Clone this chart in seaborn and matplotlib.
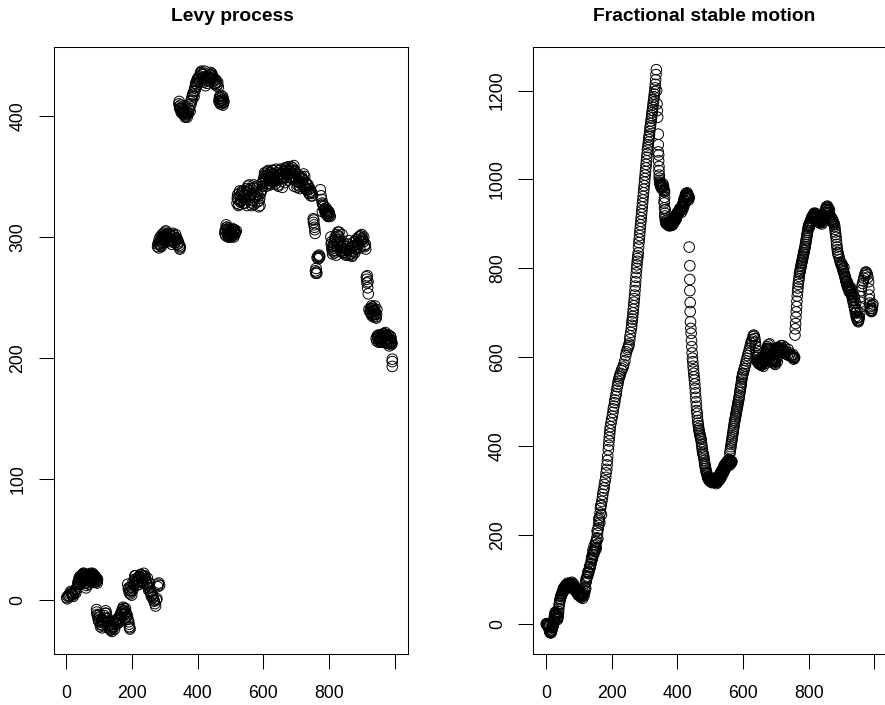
import matplotlib
matplotlib.use('Agg')
import matplotlib.pyplot as plt
import seaborn as sns

# Levy process, one cluster at a time
levy_x = [
 [1, 3, 5, 7, 9, 11, 13, 15, 17, 19, 21, 23, 25, 27, 29, 31, 33],
 [35, 37, 39, 41, 43, 45, 47, 49, 51, 53, 55, 57, 59, 61, 63, 65, 67, 69, 71, 73, 75, 77, 79, 81, 83, 85, 87, 89, 91, 93, 95],
 [92, 93, 95, 97, 100, 102, 105, 108, 110, 113, 116, 120, 122, 125, 128, 130, 133, 136, 139, 141, 143, 146, 150, 153, 156, 160, 163, 166, 170, 173, 175, 177, 179, 181, 183, 186, 188, 190, 191, 192, 193, 194],
 [187, 190, 193, 195, 197, 200, 203, 206, 209, 212, 215, 218, 221, 224, 227, 230, 233, 236, 239, 242, 245, 248, 251, 254, 257, 260, 262, 264, 266, 268, 270, 272, 274, 276, 278, 280, 282, 284],
 [278, 281, 284, 287, 290, 293, 296, 299, 302, 305, 308, 311, 314, 317, 320, 323, 326, 329, 332, 335, 338, 341, 344, 346, 347],
 [343, 345, 347, 349, 351, 353, 355, 358, 361, 364, 367, 370, 373, 376, 379, 382, 385, 388, 391, 394, 397, 400, 403, 406, 409, 412, 415, 418, 421, 424, 427, 430, 433, 436, 439, 442, 445, 448, 451, 454, 457, 460, 463, 466, 468, 470, 472, 474, 476, 478, 480],
 [483, 485, 487, 489, 491, 494, 497, 500, 503, 506, 509, 512, 515, 518],
 [520, 523, 526, 529, 532, 535, 538, 541, 544, 547, 550, 553, 556, 559, 562, 565, 568, 571, 574, 577, 580, 583, 586, 589, 592, 595, 598],
 [600, 603, 606, 609, 612, 615, 618, 621, 624, 627, 630, 633, 636, 639, 642, 645, 648, 651, 654, 657, 660, 663, 666, 669, 672, 675, 678, 681, 684, 687, 690, 693, 696, 699, 702, 705, 708, 711, 714, 717, 720, 723, 726, 729, 732, 735, 738, 741, 744, 747, 750],
 [752, 753, 754, 755, 756, 757, 758, 759, 760, 761, 762, 763, 764, 766, 768, 770, 771, 772],
 [774, 776, 778, 780, 782, 784, 786, 788, 790, 792, 794, 796, 798, 800, 802, 804],
 [806, 808, 810, 812, 814, 816, 818, 821, 824, 827, 830, 833, 836, 839, 842, 845, 848, 851, 854, 857, 860, 863, 866, 869, 872, 875, 878, 881, 884, 887, 890, 893, 896, 899, 902, 905, 908, 911],
 [914, 915, 916, 917, 918, 919, 920, 922, 925, 927, 929, 931, 933, 935, 937, 939, 941, 943, 945],
 [944, 947, 950, 953, 956, 959, 962, 965, 968, 971, 974, 977, 980, 983, 985, 987, 989, 990, 991, 992, 993, 993, 993],
 # second pass over the blobs, where the original is solid black
 [36, 38, 40, 42, 44, 46, 48, 50, 52, 54, 56, 58, 60, 62, 64, 66, 68, 70, 72, 74, 76, 78, 80, 82, 84, 86, 88, 90, 92, 94],
 [94, 98, 101, 104, 107, 109, 112, 115, 118, 121, 124, 127, 131, 134, 137, 140, 144, 147, 151, 155, 158, 161, 165, 168, 171, 174, 176, 178, 180, 182],
 [189, 192, 196, 199, 202, 205, 208, 211, 214, 217, 220, 223, 226, 229, 232, 235, 238, 241, 244, 247, 250, 253, 256, 259, 263],
 [279, 282, 285, 288, 291, 294, 297, 300, 303, 306, 309, 312, 315, 318, 321, 324, 327, 330, 333, 336, 339, 342, 345, 283, 286, 289, 292, 295, 298, 301],
 [344, 346, 348, 350, 352, 354, 356, 359, 362, 365, 368, 371, 374, 377, 380, 383, 386, 389, 392, 395, 398, 401, 404, 407, 410, 413, 416, 419, 422, 425, 428, 431, 434, 437, 440, 443, 446, 449, 452, 455, 458, 461, 465, 467, 469, 471, 473, 475, 477, 479],
 [484, 486, 488, 490, 492, 493, 495, 496, 498, 499, 501, 502, 504, 505, 507, 508, 510, 511, 513, 514],
 [521, 524, 527, 530, 533, 536, 539, 542, 545, 548, 551, 554, 557, 560, 563, 566, 569, 572, 575, 578, 581, 584, 587, 590, 593, 596, 599, 522, 528, 534],
 [601, 604, 607, 610, 613, 616, 619, 622, 625, 628, 631, 634, 637, 640, 643, 646, 649, 652, 655, 658, 661, 664, 667, 670, 673, 676, 679, 682, 685, 688, 691, 694, 697, 700, 703, 706, 709, 712, 715, 718, 721, 724, 727, 730, 733, 736, 739, 742, 745, 748, 610, 620, 630, 640, 650, 660, 670, 680, 695, 710],
 [807, 809, 811, 813, 815, 817, 819, 822, 825, 828, 831, 834, 837, 840, 843, 846, 849, 852, 855, 858, 861, 864, 867, 870, 873, 876, 879, 882, 885, 888, 891, 894, 897, 900, 903, 906, 909, 912, 826, 840],
 [928, 930, 932, 934, 936, 938, 940, 942, 944, 946],
 [946, 949, 951, 954, 957, 960, 963, 966, 969, 972, 975, 978, 981, 984, 986, 988, 948, 952, 958, 964, 970, 976, 982, 985, 989],
 [780, 783, 786, 789, 791, 793, 795, 797, 799, 801]]
levy_y = [
 [2, 1, 3, 4, 3, 5, 7, 6, 5, 4, 3, 5, 7, 8, 6, 9, 11],
 [13, 15, 14, 17, 18, 16, 19, 21, 20, 22, 21, 19, 16, 12, 14, 17, 19, 18, 20, 21, 19, 17, 20, 21, 19, 18, 20, 17, 15, 16, 17],
 [-8, -10, -13, -15, -18, -12, -20, -16, -21, -17, -13, -9, -11, -15, -18, -20, -23, -25, -26, -23, -20, -22, -18, -16, -19, -15, -13, -11, -8, -6, -7, -9, -12, -10, -14, -13, -16, -18, -20, -22, -23, -24],
 [13, 10, 8, 5, 7, 10, 15, 12, 20, 17, 14, 18, 16, 19, 21, 18, 15, 22, 20, 17, 14, 12, 8, 10, 6, 4, 5, 2, 0, -1, -3, -5, 0, 1, 11, 13, 14, 12],
 [292, 295, 294, 297, 298, 300, 303, 301, 304, 302, 299, 300, 302, 297, 298, 296, 300, 301, 299, 297, 298, 296, 293, 290, 292],
 [410, 408, 406, 407, 405, 404, 403, 402, 401, 400, 401, 403, 405, 408, 412, 415, 418, 420, 423, 427, 429, 431, 430, 433, 436, 437, 435, 432, 428, 425, 431, 433, 430, 432, 436, 434, 433, 431, 429, 427, 428, 426, 424, 414, 412, 415, 413, 411, 416, 414, 412],
 [303, 306, 310, 308, 305, 302, 301, 303, 304, 302, 305, 306, 304, 305],
 [328, 331, 327, 334, 330, 336, 332, 338, 328, 334, 340, 342, 331, 338, 335, 326, 330, 343, 341, 333, 337, 329, 325, 332, 336, 339, 342],
 [345, 350, 352, 348, 354, 350, 347, 353, 349, 355, 345, 352, 347, 356, 351, 343, 348, 355, 352, 346, 350, 354, 357, 353, 355, 358, 352, 349, 356, 353, 357, 359, 355, 352, 348, 343, 345, 342, 346, 350, 348, 352, 350, 344, 340, 343, 339, 336, 338, 337, 334],
 [315, 312, 314, 310, 308, 306, 303, 272, 270, 274, 271, 270, 283, 284, 282, 285, 283, 284],
 [339, 334, 331, 328, 327, 325, 323, 322, 321, 319, 320, 318, 317, 319, 318, 317],
 [300, 296, 292, 288, 291, 295, 287, 298, 302, 304, 300, 296, 292, 289, 293, 295, 287, 285, 290, 294, 297, 288, 286, 291, 285, 288, 293, 296, 298, 292, 295, 300, 301, 297, 299, 296, 293, 294],
 [267, 265, 262, 268, 258, 263, 253, 240, 238, 241, 237, 235, 242, 239, 236, 240, 238, 234, 236],
 [216, 218, 217, 215, 219, 216, 218, 220, 217, 215, 219, 213, 216, 214, 212, 218, 214, 211, 213, 212, 199, 197, 193],
 [15, 17, 19, 13, 20, 15, 18, 16, 22, 19, 17, 14, 10, 15, 20, 16, 13, 18, 16, 22, 16, 18, 22, 15, 20, 17, 19, 15, 18, 14],
 [-12, -17, -14, -22, -18, -23, -19, -15, -11, -15, -19, -22, -24, -21, -24, -22, -18, -24, -20, -17, -19, -17, -15, -12, -10, -9, -12, -15, -7, -11],
 [9, 6, 11, 4, 8, 13, 17, 20, 12, 16, 19, 13, 21, 16, 20, 14, 19, 16, 13, 18, 10, 14, 7, 3, 2],
 [294, 291, 296, 293, 299, 295, 301, 298, 305, 300, 296, 303, 298, 301, 294, 303, 297, 295, 302, 299, 294, 295, 291, 298, 300, 292, 302, 297, 300, 296],
 [412, 406, 409, 403, 406, 402, 405, 403, 399, 403, 399, 402, 406, 404, 410, 413, 417, 416, 421, 424, 426, 428, 432, 428, 435, 431, 434, 430, 437, 429, 427, 432, 429, 434, 431, 435, 432, 430, 426, 430, 425, 428, 412, 416, 410, 417, 410, 413, 409, 411],
 [305, 301, 308, 303, 307, 300, 304, 300, 306, 302, 300, 305, 302, 307, 301, 304, 300, 306, 302, 304],
 [332, 326, 336, 329, 333, 338, 328, 335, 331, 337, 326, 339, 343, 333, 340, 328, 336, 327, 334, 340, 342, 335, 330, 326, 338, 344, 346, 335, 338, 330],
 [348, 353, 346, 351, 344, 355, 349, 344, 352, 346, 355, 349, 344, 353, 347, 342, 351, 356, 348, 341, 354, 349, 345, 357, 352, 347, 355, 350, 358, 353, 348, 342, 350, 346, 341, 351, 345, 340, 349, 344, 347, 342, 340, 345, 339, 343, 336, 340, 334, 336, 342, 343, 347, 349, 352, 352, 356, 354, 354, 350],
 [294, 290, 286, 293, 289, 297, 300, 285, 292, 301, 304, 298, 288, 291, 287, 293, 290, 286, 292, 289, 285, 290, 286, 284, 292, 296, 287, 290, 298, 294, 300, 291, 296, 302, 298, 300, 292, 290, 296, 302],
 [238, 243, 236, 241, 234, 239, 243, 236, 233, 240],
 [214, 216, 219, 214, 217, 213, 219, 216, 220, 221, 218, 215, 219, 210, 216, 213, 218, 213, 215, 218, 213, 212, 216, 214, 217],
 [321, 326, 323, 320, 324, 319, 322, 317, 321, 320]]

# Fractional stable motion
frac_x = [
 [1, 3, 5, 7, 8, 9, 10, 11, 12, 14, 16, 17, 18, 20, 22, 23, 25, 27, 28, 30, 32, 34, 35, 36, 37, 38, 39, 40, 42, 44, 45, 47, 48, 50, 52, 54, 56, 58, 60, 62, 65, 68, 70, 73, 75, 78, 80, 83, 85, 88, 90, 93, 95, 98, 100, 103, 105, 108, 110, 113, 115, 117, 118, 120, 122, 124, 127, 129, 132, 134, 136, 138, 140, 142, 144, 146, 148, 150, 152, 154, 155, 157, 159, 160, 162, 163, 165, 166, 168, 170, 172, 173, 175, 177, 178, 180, 182, 183, 185, 186, 187, 188, 190, 191, 192, 193, 194, 195, 196, 198, 200, 202, 204, 205, 207, 209, 210, 212, 214, 215, 217, 219, 220, 222, 224, 225, 227, 230, 232, 235, 237, 240, 243, 245, 248, 250, 252, 253, 255, 256, 258, 260, 261, 262, 263, 264, 265, 266, 267, 268, 269, 270, 271, 272, 273, 274, 275, 276, 277, 278, 279, 280, 281, 282, 283, 284, 285, 286, 287, 288, 289, 290, 291, 292, 293, 294, 295, 296, 297, 298, 299, 300, 301, 302, 303, 304, 305, 306, 307, 308, 309, 310, 311, 312, 313, 314, 315, 316, 317, 318, 319, 320, 321, 322, 323, 324, 325, 326, 327, 328, 329, 330, 331, 332, 333, 334, 335, 336],
 [337, 338, 339, 340, 342, 342, 342, 343, 343, 344, 344, 345, 345, 346, 346, 347, 348, 349, 350, 352, 354, 356, 358, 360, 361, 361, 360, 360, 361, 362, 362, 363, 364, 365, 366, 368, 370, 372, 375, 378, 380, 382, 385, 388, 390, 393, 395, 398, 400, 403, 405, 408, 410, 413, 415, 418, 420, 423, 425, 427, 429, 431, 433, 435],
 [436, 438, 438, 438, 439, 439, 440, 441, 442, 443, 444, 445, 446, 447, 448, 449, 450, 451, 452, 453, 454, 455, 456, 457, 458, 459, 460, 461, 462, 463, 464, 465, 466, 467, 468, 469, 470, 471, 472, 473, 474, 475, 476, 477, 478, 479, 480, 481, 482, 483, 484, 485, 486, 487, 488, 489, 490, 491, 492, 493, 495, 497, 499, 501, 503, 505, 507, 510, 513, 515, 518, 520, 523, 525, 527, 529, 531, 533, 535, 537, 539, 541, 543, 545, 547, 549, 551, 553, 555, 558, 561, 564, 566],
 [560, 561, 562, 563, 564, 565, 566, 567, 568, 569, 570, 571, 572, 573, 574, 575, 576, 577, 578, 579, 580, 581, 582, 583, 584, 585, 586, 587, 588, 589, 590, 591, 592, 593, 594, 595, 596, 597, 598, 599, 600, 602, 604, 606, 608, 610, 612, 614, 616, 618, 620, 622, 624, 626, 628, 630, 632, 634, 636, 637, 638, 639, 640, 641, 642, 644, 646, 648, 650, 652, 655, 658, 660, 663, 665, 668, 670, 672, 674, 676, 678, 680, 682, 684, 686, 688, 690, 692, 694, 697, 700, 703, 705, 707, 709, 711, 713, 716, 720, 725, 730, 735, 740, 745, 750, 753, 755, 757],
 [758, 759, 760, 761, 762, 763, 764, 765, 766, 767, 768, 769, 770, 771, 772, 773, 774, 775, 776, 777, 778, 779, 780, 781, 782, 783, 784, 785, 786, 787, 788, 789, 790, 791, 792, 793, 794, 795, 796, 797, 798, 799, 800, 802, 804, 806, 808, 810, 812, 815, 818, 821, 824, 827, 830, 833, 836, 839, 842, 845, 848, 850, 852, 854, 856, 858, 860, 862, 864, 866, 868, 870, 872, 874, 875, 876, 877, 878, 879, 880, 881, 882, 883, 884, 885, 886, 887, 888, 889, 890, 892, 894, 896, 898, 900, 902, 904, 906, 908, 910, 912, 914, 916, 918, 920, 922, 924, 926, 928, 930, 932, 934, 936, 938, 940, 942, 944, 946, 948, 950, 952, 954, 955, 956, 957, 958, 960, 962, 964, 966, 968, 970, 972, 974, 976, 978, 980, 982, 983, 984, 985, 986, 987, 988, 989, 990, 991, 992, 993, 994, 995],
 # second pass over the stretches that come out solid black in the original
 [2, 4, 6, 9, 13, 15, 19, 21, 24, 26, 29, 31, 33, 36, 38, 41, 43, 46, 49, 51, 53, 55, 57, 59, 61, 63, 66, 69, 72, 74, 76, 79, 82, 84, 87, 89, 92, 94, 97, 99, 101, 104, 107, 109, 112, 114, 116, 119, 121, 123],
 [125, 128, 130, 133, 135, 137, 139, 141, 143, 145, 147, 149, 151, 153, 156, 158, 161, 164, 167, 169],
 [351, 353, 355, 357, 359, 363, 367, 369, 371, 373, 374, 376, 377, 379, 381, 383, 384, 386, 387, 389, 391, 392, 394, 396, 397, 399, 401, 402, 404, 406, 407, 409, 411, 412, 414, 416, 417, 419, 421, 422, 424, 426, 428, 430, 432, 434, 436, 430, 426, 433],
 [494, 496, 498, 500, 502, 504, 506, 508, 509, 511, 512, 514, 516, 517, 519, 521, 522, 524, 526, 528, 530, 532, 534, 536, 538, 540, 542, 544, 546, 548, 550, 552, 554, 556, 557, 559, 560, 562, 563, 565],
 [643, 645, 647, 649, 651, 653, 654, 656, 657, 659, 661, 662, 664, 666, 667, 669, 671, 673, 675, 677, 679, 681, 683, 685, 687, 689, 691, 693, 695, 696, 698, 699, 701, 702, 704, 706, 708, 710, 712, 714, 715, 717, 719, 721, 723, 727, 732, 737, 742, 747, 752, 754, 756],
 [801, 803, 805, 807, 809, 811, 813, 814, 816, 817, 819, 820, 822, 823, 825, 826, 828, 829, 831, 832, 834, 835, 837, 838, 840, 841, 843, 844, 846, 847, 849, 851, 853, 855, 857, 859, 861, 863, 865, 867, 869, 871, 873],
 [901, 903, 905, 907, 909, 911, 913, 915, 917, 919, 921, 923, 925, 927, 929, 931, 933, 935, 937, 939, 941, 943, 945, 947, 949, 951, 953]]
frac_y = [
 [0, -1, -2, -3, -5, -8, -11, -15, -18, -20, -19, -16, -13, -8, -3, 5, 12, 20, 25, 24, 21, 16, 10, 14, 20, 28, 34, 42, 52, 58, 62, 65, 68, 70, 72, 75, 79, 82, 85, 87, 88, 88, 89, 91, 92, 90, 88, 85, 82, 80, 78, 76, 72, 70, 68, 66, 65, 64, 62, 66, 70, 76, 82, 92, 100, 104, 108, 114, 122, 128, 134, 142, 148, 156, 160, 164, 168, 172, 178, 186, 194, 204, 214, 222, 232, 240, 250, 260, 268, 276, 284, 292, 300, 306, 314, 322, 330, 340, 348, 358, 368, 378, 392, 402, 412, 420, 428, 436, 444, 452, 460, 468, 476, 484, 490, 498, 504, 512, 518, 526, 534, 540, 546, 552, 556, 560, 564, 570, 574, 578, 584, 592, 604, 612, 618, 622, 626, 630, 640, 648, 656, 665, 672, 680, 686, 692, 700, 708, 716, 724, 732, 740, 750, 760, 770, 780, 790, 800, 808, 816, 822, 828, 835, 848, 858, 866, 874, 882, 890, 898, 906, 914, 922, 930, 938, 946, 954, 962, 970, 978, 986, 994, 1002, 1010, 1018, 1026, 1034, 1042, 1050, 1058, 1066, 1072, 1078, 1084, 1090, 1096, 1100, 1108, 1116, 1120, 1126, 1132, 1138, 1144, 1150, 1156, 1162, 1168, 1174, 1180, 1186, 1192, 1198, 1206, 1214, 1224, 1236, 1247],
 [1200, 1170, 1155, 1140, 1102, 1078, 1062, 1055, 1042, 1029, 1020, 1010, 1003, 998, 994, 992, 989, 986, 984, 980, 985, 990, 984, 976, 972, 960, 952, 947, 936, 924, 918, 912, 906, 902, 901, 900, 899, 898, 898, 900, 901, 903, 905, 908, 912, 916, 919, 922, 925, 928, 930, 931, 933, 936, 942, 948, 955, 960, 965, 968, 965, 962, 960, 958],
 [848, 806, 775, 750, 723, 703, 680, 665, 654, 638, 624, 610, 598, 590, 580, 572, 564, 556, 549, 540, 530, 520, 510, 500, 490, 480, 474, 466, 458, 452, 446, 440, 436, 432, 428, 425, 421, 418, 416, 410, 404, 398, 392, 387, 384, 381, 378, 373, 368, 362, 358, 354, 350, 346, 342, 340, 338, 335, 331, 328, 326, 325, 324, 323, 322, 321, 320, 320, 320, 322, 320, 319, 320, 322, 325, 328, 331, 336, 340, 344, 348, 351, 354, 356, 358, 360, 361, 362, 364, 365, 364, 363, 365],
 [384, 389, 394, 399, 404, 409, 414, 419, 424, 429, 434, 439, 444, 449, 454, 458, 462, 466, 470, 474, 478, 482, 486, 490, 494, 498, 502, 506, 510, 514, 520, 524, 530, 534, 538, 544, 550, 554, 558, 562, 564, 570, 574, 580, 586, 592, 598, 604, 609, 614, 620, 626, 632, 636, 640, 646, 650, 648, 642, 634, 626, 616, 608, 600, 594, 590, 588, 586, 585, 584, 583, 585, 588, 592, 598, 606, 612, 618, 624, 620, 614, 606, 598, 594, 592, 590, 592, 598, 606, 614, 618, 620, 621, 622, 620, 618, 616, 614, 612, 610, 608, 606, 604, 603, 602, 601, 600, 600],
 [650, 664, 676, 690, 702, 714, 726, 738, 748, 756, 764, 770, 776, 782, 789, 792, 796, 800, 804, 807, 811, 814, 818, 821, 825, 828, 832, 835, 839, 842, 846, 849, 854, 858, 863, 867, 872, 876, 881, 885, 890, 894, 897, 900, 904, 908, 912, 916, 918, 920, 922, 920, 916, 912, 908, 906, 905, 906, 908, 912, 918, 925, 932, 935, 938, 936, 930, 925, 920, 915, 910, 909, 908, 906, 904, 902, 900, 898, 894, 888, 882, 876, 870, 862, 854, 848, 842, 836, 834, 830, 826, 820, 814, 810, 806, 804, 798, 792, 788, 782, 776, 770, 763, 760, 757, 755, 753, 751, 748, 742, 735, 728, 722, 715, 708, 700, 692, 688, 684, 682, 684, 690, 700, 712, 724, 736, 750, 760, 766, 772, 778, 784, 789, 792, 790, 786, 780, 770, 754, 740, 730, 722, 714, 710, 706, 704, 703, 706, 710, 716, 720],
 [1, -3, -1, -6, -16, -17, -7, -4, 8, 18, 27, 20, 12, 16, 24, 46, 55, 62, 68, 74, 80, 78, 84, 80, 88, 82, 92, 86, 82, 90, 86, 94, 84, 90, 76, 82, 74, 80, 66, 72, 64, 70, 60, 68, 58, 70, 64, 74, 80, 96],
 [106, 118, 116, 130, 128, 136, 150, 146, 166, 156, 176, 164, 184, 170, 210, 192, 236, 228, 266, 246],
 [990, 986, 982, 978, 974, 932, 908, 904, 900, 902, 896, 898, 901, 896, 899, 904, 897, 900, 906, 902, 908, 912, 908, 916, 912, 918, 922, 926, 924, 928, 934, 932, 930, 926, 936, 932, 942, 938, 952, 946, 958, 968, 962, 970, 966, 954, 960, 956, 950, 964],
 [330, 326, 322, 325, 320, 326, 318, 322, 326, 319, 324, 328, 320, 324, 316, 326, 322, 330, 334, 324, 338, 328, 344, 334, 348, 340, 356, 346, 360, 352, 364, 356, 368, 360, 370, 364, 358, 368, 362, 366],
 [604, 600, 592, 596, 586, 590, 598, 582, 590, 594, 586, 580, 592, 596, 586, 602, 610, 620, 614, 628, 618, 630, 620, 612, 604, 596, 588, 594, 586, 592, 584, 590, 596, 600, 590, 612, 606, 618, 612, 620, 626, 614, 620, 626, 616, 622, 612, 618, 610, 604, 606, 596, 598],
 [892, 896, 902, 908, 906, 912, 918, 914, 924, 918, 916, 924, 914, 920, 910, 918, 908, 914, 904, 910, 902, 912, 906, 916, 900, 910, 904, 916, 912, 926, 920, 930, 938, 926, 940, 930, 924, 932, 918, 914, 908, 912, 904],
 [810, 800, 795, 802, 786, 780, 772, 768, 770, 756, 762, 748, 758, 745, 755, 748, 738, 742, 728, 735, 712, 722, 700, 705, 690, 680, 690]]

x_ticks = [0, 200, 400, 600, 800, 1000]
x_labels = ['0', '200', '400', '600', '800', '']
levy_y_ticks = [0, 100, 200, 300, 400]
frac_y_ticks = [0, 200, 400, 600, 800, 1000, 1200]


def flatten(parts):
    return [v for part in parts for v in part]


W, H = 885, 705

sns.set_style('white')
plt.rcParams['font.family'] = ['Liberation Sans', 'DejaVu Sans']
plt.rcParams['text.color'] = 'black'
plt.rcParams['xtick.labelcolor'] = 'black'
plt.rcParams['ytick.labelcolor'] = 'black'

fig = plt.figure(figsize=(W / 100, H / 100), dpi=100)
ax1 = fig.add_axes([53.7 / W, 1 - 654.3 / H, 354 / W, 607.3 / H])
ax2 = fig.add_axes([533.3 / W, 1 - 654.3 / H, 354.3 / W, 607.3 / H])

panels = [(ax1, levy_x, levy_y, 'Levy process', levy_y_ticks, (-44.9, 457), 0.505),
          (ax2, frac_x, frac_y, 'Fractional stable motion', frac_y_ticks, (-68, 1298), 0.483)]

for ax, xs, ys, title, yticks, ylim, title_x in panels:
    sns.scatterplot(x=flatten(xs), y=flatten(ys), ax=ax, marker='o', s=58, facecolor='none',
                    edgecolor='black', linewidth=0.7)
    ax.set_xlim(-38.5, 1040)
    ax.set_ylim(*ylim)
    ax.set_xticks(x_ticks)
    ax.set_xticklabels(x_labels)
    ax.set_yticks(yticks)
    ax.set_yticklabels([str(v) for v in yticks], rotation=90, va='center')
    ax.tick_params(axis='both', length=10.8, width=0.75, color='black', labelsize=12.7, left=True, bottom=True)
    ax.tick_params(axis='x', pad=11.5)
    ax.tick_params(axis='y', pad=9)
    for spine in ax.spines.values():
        spine.set_linewidth(0.75)
        spine.set_color('black')
    ax.set_title(title, fontsize=13.9, fontweight='bold', x=title_x, pad=19)

fig.savefig('out.png', dpi=100)
plt.close(fig)
